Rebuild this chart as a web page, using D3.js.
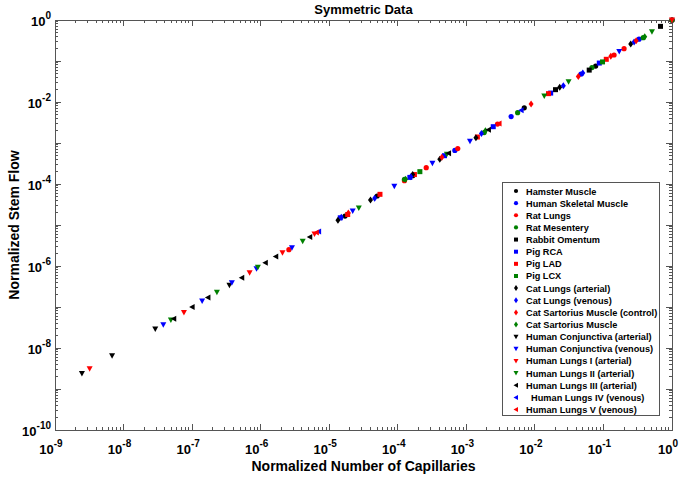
<!DOCTYPE html>
<html>
<head>
<meta charset="utf-8">
<script src="https://cdn.jsdelivr.net/npm/d3@7"></script>
<style>
  body { margin: 0; background: #fff; }
  svg { font-family: "Liberation Sans", Arial, sans-serif; font-weight: bold; }
  .leg text { white-space: pre; }
</style>
</head>
<body>
<div id="chart"></div>
<script>
// series names, in legend order
var seriesNames = [
  "Hamster Muscle", "Human Skeletal Muscle", "Rat Lungs", "Rat Mesentery",
  "Rabbit Omentum", "Pig RCA", "Pig LAD", "Pig LCX",
  "Cat Lungs (arterial)", "Cat Lungs (venous)", "Cat Sartorius Muscle (control)", "Cat Sartorius Muscle",
  "Human Conjunctiva (arterial)", "Human Conjunctiva (venous)", "Human Lungs I (arterial)", "Human Lungs II (arterial)",
  "Human Lungs III (arterial)", "  Human Lungs IV (venous)", "Human Lungs V (venous)"
];
var seriesColors = ["#000", "#0000ff", "#ff0000", "#008000",
                    "#000", "#0000ff", "#ff0000", "#008000",
                    "#000", "#0000ff", "#ff0000", "#008000",
                    "#000", "#0000ff", "#ff0000", "#008000",
                    "#000", "#0000ff", "#ff0000"];
var seriesMarkers = ["circle", "circle", "circle", "circle",
                     "square", "square", "square", "square",
                     "diamond", "diamond", "diamond", "diamond",
                     "down", "down", "down", "down",
                     "left", "left", "left"];

// normalized number of capillaries (x) and normalized stem flow (y), one pair of arrays per series
var xHamster = [1.7e-5, 5.0e-5, 1.65e-4, 7.0e-3, 7.7e-2, 1];
var yHamster = [1.65e-5, 5.1e-5, 1.6e-4, 7.2e-3, 7.5e-2, 1];
var xHumanSkel = [6.8e-4, 4.5e-3, 4.7e-2, 0.33, 1];
var yHumanSkel = [6.6e-4, 4.4e-3, 4.8e-2, 0.34, 1];
var xRatLungs = [2.58e-6, 1.25e-4, 2.6e-4, 7.5e-4, 2.85e-3, 0.143, 0.2, 1];
var yRatLungs = [2.5e-6, 1.2e-4, 2.5e-4, 7.3e-4, 2.9e-3, 0.14, 0.2, 1];
var xRatMes = [1.25e-4, 1.82e-3, 5.6e-3, 6.8e-2, 0.38, 1];
var yRatMes = [1.3e-4, 1.8e-3, 5.5e-3, 6.9e-2, 0.37, 1];
var xRabbit = [2.0e-2, 6.2e-2, 0.68];
var yRabbit = [2.0e-2, 6.0e-2, 0.7];
var xPigRCA = [1.45e-5, 1.5e-4, 4.8e-4, 2.47e-3, 1.7e-2, 8.7e-2];
var yPigRCA = [1.5e-5, 1.45e-4, 4.9e-4, 2.5e-3, 1.65e-2, 8.9e-2];
var xPigLAD = [1.86e-5, 5.5e-5, 1.75e-4, 1.45e-3, 1.58e-2, 0.11];
var yPigLAD = [1.8e-5, 5.6e-5, 1.7e-4, 1.4e-3, 1.6e-2, 0.11];
var xPigLCX = [2.1e-4, 9.7e-2];
var yPigLCX = [2.0e-4, 9.5e-2];
var xCatLungsA = [1.34e-5, 4.0e-5, 1.65e-4, 4.1e-4, 1.38e-3, 2.3e-2, 0.25];
var yCatLungsA = [1.3e-5, 4.1e-5, 1.7e-4, 4.0e-4, 1.35e-3, 2.3e-2, 0.26];
var xCatLungsV = [1.5e-5, 4.6e-5, 1.55e-4, 1.66e-3, 2.6e-2, 5.0e-2, 0.28];
var yCatLungsV = [1.55e-5, 4.5e-5, 1.5e-4, 1.7e-3, 2.5e-2, 5.1e-2, 0.29];
var xCatSartC = [1.9e-5, 4.4e-4, 8.8e-3, 4.3e-2, 0.128, 0.30];
var yCatSartC = [1.95e-5, 4.5e-4, 9.0e-3, 4.2e-2, 0.13, 0.31];
var xCatSart = [1.3e-4, 1.9e-3, 0.4];
var yCatSart = [1.3e-4, 2.0e-3, 0.39];
var xConjA = [2.47e-9, 6.8e-9, 2.9e-8, 3.5e-7];
var yConjA = [2.4e-9, 6.5e-9, 2.9e-8, 3.4e-7];
var xConjV = [3.8e-8, 1.4e-7, 3.8e-7, 8.7e-7, 2.86e-6, 2.2e-5, 8.9e-5, 3.2e-4, 1.13e-3, 0.17];
var yConjV = [3.7e-8, 1.4e-7, 3.9e-7, 8.6e-7, 2.8e-6, 2.2e-5, 8.8e-5, 3.2e-4, 1.1e-3, 0.17];
var xLungsI = [3.2e-9, 7.6e-8, 6.9e-7, 2.08e-6, 6.1e-6, 1];
var yLungsI = [3.1e-9, 7.3e-8, 6.8e-7, 2.1e-6, 6.0e-6, 1];
var xLungsII = [4.9e-8, 2.3e-7, 9.1e-7, 4.1e-6, 2.7e-5, 5.2e-4, 1.37e-2, 3.1e-2, 0.51];
var yLungsII = [4.8e-8, 2.3e-7, 9.3e-7, 4.0e-6, 2.6e-5, 5.3e-4, 1.4e-2, 3.1e-2, 0.52];
var xLungsIII = [5.4e-8, 1.0e-7, 1.7e-7, 5.3e-7, 1.17e-6, 1.66e-6, 5.2e-6, 5.5e-4, 2.1e-3];
var yLungsIII = [5.2e-8, 1.0e-7, 1.7e-7, 5.2e-7, 1.2e-6, 1.7e-6, 5.1e-6, 5.6e-4, 2.1e-3];
var xLungsIV = [7.0e-6, 6.3e-3];
var yLungsIV = [6.9e-6, 6.3e-3];
var xLungsV = [6.5e-6, 3.0e-3];
var yLungsV = [6.6e-6, 3.0e-3];

var seriesX = [xHamster, xHumanSkel, xRatLungs, xRatMes, xRabbit, xPigRCA, xPigLAD, xPigLCX,
               xCatLungsA, xCatLungsV, xCatSartC, xCatSart, xConjA, xConjV, xLungsI, xLungsII,
               xLungsIII, xLungsIV, xLungsV];
var seriesY = [yHamster, yHumanSkel, yRatLungs, yRatMes, yRabbit, yPigRCA, yPigLAD, yPigLCX,
               yCatLungsA, yCatLungsV, yCatSartC, yCatSart, yConjA, yConjV, yLungsI, yLungsII,
               yLungsIII, yLungsIV, yLungsV];

var xTickExp = [-9, -8, -7, -6, -5, -4, -3, -2, -1, 0];
var yTickExp = [-10, -8, -6, -4, -2, 0];

var W = 686, H = 479;
var m = {top: 20, right: 14, bottom: 49, left: 55};
var pw = W - m.left - m.right, ph = H - m.top - m.bottom;

var svg = d3.select("#chart").append("svg").attr("width", W).attr("height", H);
var g = svg.append("g").attr("transform", "translate(" + m.left + "," + m.top + ")");

var x = d3.scaleLog().domain([1e-9, 1]).range([0, pw]);
var y = d3.scaleLog().domain([1e-10, 1]).range([ph, 0]);

// minor ticks for every decade
function minorTicks(lo, hi) {
  var t = [];
  for (var e = lo; e < hi; e++)
    for (var k = 2; k <= 9; k++) t.push(k * Math.pow(10, e));
  return t;
}
var xMinor = minorTicks(-9, 0), yMinor = minorTicks(-10, 0);
var frameCol = "#555";

// tick marks pointing inward on all four sides
function tickLines(sel, vals, len, horizontal) {
  vals.forEach(function (v) {
    if (horizontal) {
      sel.append("line").attr("x1", x(v)).attr("x2", x(v)).attr("y1", ph).attr("y2", ph - len);
      sel.append("line").attr("x1", x(v)).attr("x2", x(v)).attr("y1", 0).attr("y2", len);
    } else {
      sel.append("line").attr("y1", y(v)).attr("y2", y(v)).attr("x1", 0).attr("x2", len);
      sel.append("line").attr("y1", y(v)).attr("y2", y(v)).attr("x1", pw).attr("x2", pw - len);
    }
  });
}
var tg = g.append("g").attr("stroke", frameCol).attr("stroke-width", 1).attr("shape-rendering", "crispEdges");
tickLines(tg, xMinor, 3, true);
tickLines(tg, xTickExp.map(function (e) { return Math.pow(10, e); }), 6, true);
tickLines(tg, yMinor, 3, false);
tickLines(tg, d3.range(-10, 1).map(function (e) { return Math.pow(10, e); }), 6, false);

g.append("rect").attr("width", pw).attr("height", ph).attr("fill", "none")
  .attr("stroke", frameCol).attr("shape-rendering", "crispEdges");

// tick labels 10^n
function powLabel(sel, e) {
  sel.append("tspan").text("10");
  sel.append("tspan").attr("dy", -7).attr("font-size", 10).text(e);
}
xTickExp.forEach(function (e) {
  var t = g.append("text").attr("x", x(Math.pow(10, e)) - 4).attr("y", ph + 24)
    .attr("text-anchor", "middle").attr("font-size", 13);
  powLabel(t, e);
});
yTickExp.forEach(function (e) {
  var t = g.append("text").attr("x", -4).attr("y", y(Math.pow(10, e)) + 6)
    .attr("text-anchor", "end").attr("font-size", 13);
  powLabel(t, e);
});

// marker shapes
function markerPath(type, s) {
  var h = s / 2;
  if (type === "square") return "M" + (-h) + "," + (-h) + "h" + s + "v" + s + "h" + (-s) + "Z";
  if (type === "diamond") return "M0," + (-h - 1) + "L" + (h) + ",0L0," + (h + 1) + "L" + (-h) + ",0Z";
  if (type === "down") return "M" + (-h - 0.5) + "," + (-h) + "L" + (h + 0.5) + "," + (-h) + "L0," + (h + 0.5) + "Z";
  if (type === "left") return "M" + (h) + "," + (-h - 0.5) + "L" + (h) + "," + (h + 0.5) + "L" + (-h - 0.5) + ",0Z";
  return d3.symbol().type(d3.symbolCircle).size(s * s * 0.85)();
}

var pts = g.append("g");
seriesNames.forEach(function (name, i) {
  var data = seriesX[i].map(function (v, j) { return [v, seriesY[i][j]]; });
  pts.selectAll(null).data(data).enter().append("path")
    .attr("transform", function (d) { return "translate(" + x(d[0]) + "," + y(d[1]) + ")"; })
    .attr("d", markerPath(seriesMarkers[i], 5))
    .attr("fill", seriesColors[i]);
});

// legend
var lg = svg.append("g").attr("class", "leg").attr("transform", "translate(502,182)");
var rowH = 12.14;
lg.append("rect").attr("width", 157).attr("height", 233).attr("fill", "#fff")
  .attr("stroke", frameCol).attr("shape-rendering", "crispEdges");
seriesNames.forEach(function (name, i) {
  var cy = 9 + i * rowH;
  lg.append("path").attr("transform", "translate(14," + cy + ")")
    .attr("d", markerPath(seriesMarkers[i], 4)).attr("fill", seriesColors[i]);
  lg.append("text").attr("x", 24).attr("y", cy + 3.5).attr("font-size", 9.2).text(name);
});

// titles
svg.append("text").attr("x", m.left + pw / 2).attr("y", 14).attr("text-anchor", "middle")
  .attr("font-size", 13).text("Symmetric Data");
svg.append("text").attr("x", m.left + pw / 2).attr("y", 471).attr("text-anchor", "middle")
  .attr("font-size", 14).text("Normalized Number of Capillaries");
svg.append("text").attr("transform", "translate(19," + (m.top + ph / 2) + ") rotate(-90)")
  .attr("text-anchor", "middle").attr("font-size", 14).text("Normalized Stem Flow");
</script>
</body>
</html>
